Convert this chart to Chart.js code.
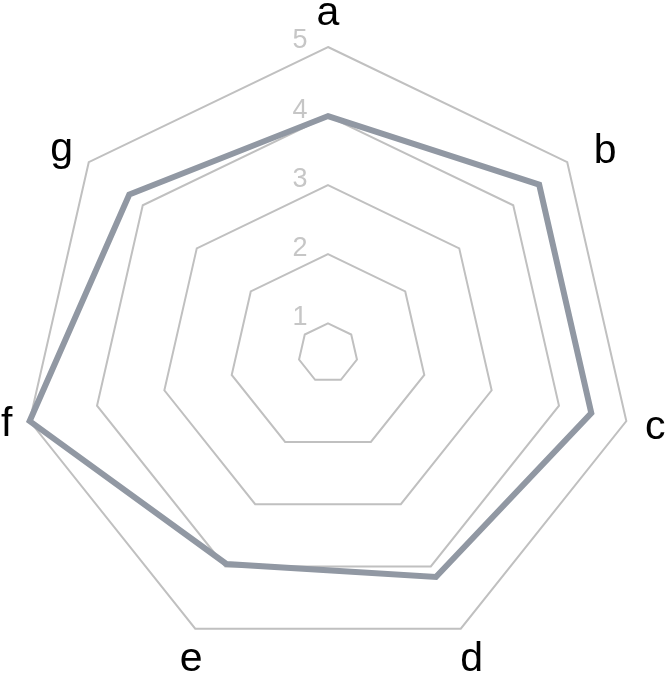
<!DOCTYPE html>
<html>
<head>
<meta charset="utf-8">
<script src="https://cdn.jsdelivr.net/npm/chart.js@4"></script>
<style>
  html, body { margin: 0; padding: 0; background: #fff; }
  #wrap { width: 666px; height: 678px; }
</style>
</head>
<body>
<div id="wrap"><canvas id="radarChart" width="666" height="678"></canvas></div>
<script>
const categories = ["a", "b", "c", "d", "e", "f", "g"];
const values = [4.0, 4.48, 4.48, 4.17, 3.96, 5.0, 4.25];
const tickValues = [1, 2, 3, 4, 5];
const scaleMin = 0.57;
const scaleMax = 5;

// label anchor (centre x, baseline y) relative to the outer ring vertex, px
const labelOffsets = [[0, -22], [38, 1], [29, 18], [11, 42], [-4, 42], [-23, 15], [-27, -1]];

const labelsPlugin = {
  id: "radarLabels",
  beforeDatasetsDraw(chart) {
    const scale = chart.scales.r;
    const ctx = chart.ctx;
    ctx.save();
    ctx.textAlign = "center";
    ctx.textBaseline = "middle";
    ctx.fillStyle = "#c6c6c6";
    ctx.font = '27px "Liberation Sans", Arial, sans-serif';
    tickValues.forEach((v) => {
      const d = scale.getDistanceFromCenterForValue(v);
      ctx.fillText(String(v), scale.xCenter - 28, scale.yCenter - d - 6);
    });
    ctx.restore();
  },
  afterDraw(chart) {
    const scale = chart.scales.r;
    const ctx = chart.ctx;
    ctx.save();
    ctx.textAlign = "center";
    ctx.textBaseline = "alphabetic";
    ctx.fillStyle = "#000";
    ctx.font = '41px "Liberation Sans", Arial, sans-serif';
    categories.forEach((c, i) => {
      const p = scale.getPointPosition(i, scale.drawingArea);
      ctx.fillText(c, p.x + labelOffsets[i][0], p.y + labelOffsets[i][1]);
    });
    ctx.restore();
  },
};

new Chart(document.getElementById("radarChart"), {
  type: "radar",
  data: {
    labels: categories,
    datasets: [
      {
        data: values,
        borderColor: "#9198a3",
        borderWidth: 6,
        borderJoinStyle: "miter",
        fill: false,
        pointRadius: 0,
        pointHoverRadius: 0,
        tension: 0,
      },
    ],
  },
  options: {
    responsive: false,
    animation: false,
    layout: { padding: { left: 22, right: 31, top: 47, bottom: 18 } },
    plugins: { legend: { display: false }, tooltip: { enabled: false } },
    scales: {
      r: {
        min: scaleMin,
        max: scaleMax,
        ticks: { display: false, stepSize: 1 },
        grid: { color: "#c0c0c0", lineWidth: 2 },
        angleLines: { display: false },
        pointLabels: { display: false },
      },
    },
  },
  plugins: [labelsPlugin],
});
</script>
</body>
</html>
